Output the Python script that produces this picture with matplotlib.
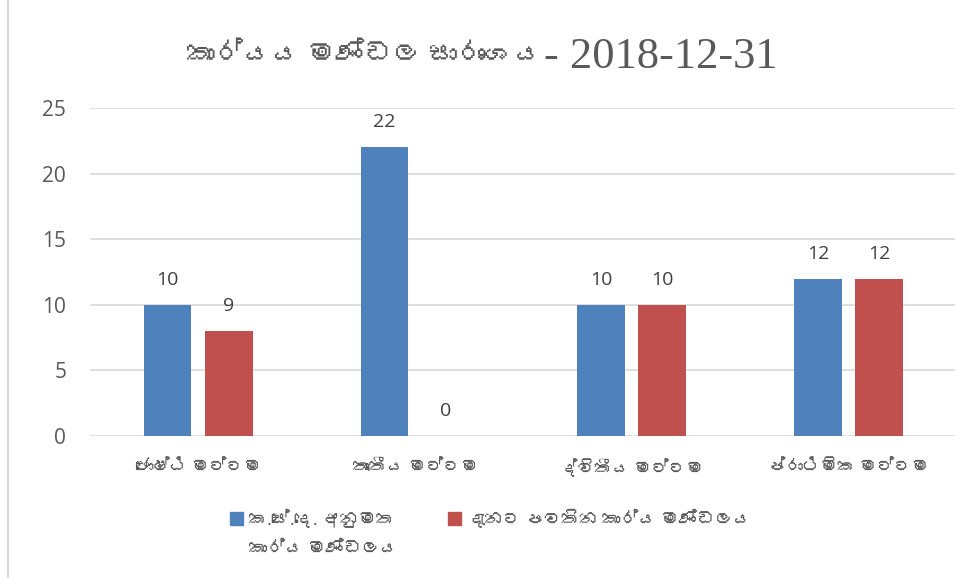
"""Sinhala working-committee summary bar chart (2018-12-31)."""

import matplotlib

matplotlib.use("Agg")
import matplotlib.pyplot as plt
import numpy as np
from matplotlib import font_manager
from matplotlib.ft2font import FT2Font
from matplotlib.lines import Line2D
from matplotlib.patches import Rectangle

categories = ["ජොෂ්ඨ මට්ටම", "තෘතීය මට්ටම", "ද්විතීය මට්ටම", "ප්රාථමික මට්ටම"]
approved = [10, 22, 10, 12]
current = [8, 0, 10, 12]
approved_labels = ["10", "22", "10", "12"]
current_labels = ["9", "0", "10", "12"]
series_names = ["ක.සේ.දෙ. අනුමත\nකාර්ය මණ්ඩලය", "දැනට පවතින කාර්ය මණ්ඩලය"]
title_sinhala = "කාර්යය මණ්ඩල සාරාංශය"
title_date = "- 2018-12-31"
yticks = [0, 5, 10, 15, 20, 25]


def find_sinhala_font():
    for fe in font_manager.fontManager.ttflist:
        try:
            cmap = FT2Font(fe.fname).get_charmap()
        except Exception:
            continue
        if 0x0D9A in cmap and 0x0DCA in cmap:
            return fe.name
    return None


sin = find_sinhala_font()
sans = ["Open Sans"] + ([sin] if sin else []) + ["DejaVu Sans"]
serif = ["Liberation Serif"] + ([sin] if sin else []) + ["DejaVu Sans"]
plt.rcParams["font.family"] = sans

W, H = 955, 578
grey = "#595959"
fig = plt.figure(figsize=(W / 100, H / 100), dpi=100)
ax = fig.add_axes([0.094, 0.2457, 0.908, 0.5674])

x = np.arange(len(categories))
w = 0.22
off = 0.141
b1 = ax.bar(x - off, approved, w, color="#4F81BD", zorder=3)
b2 = ax.bar(x + off, current, w, color="#C0504D", zorder=3)

for bars, labs in ((b1, approved_labels), (b2, current_labels)):
    for rect, lab in zip(bars, labs):
        ax.annotate(lab, (rect.get_x() + rect.get_width() / 2, rect.get_height()),
                    xytext=(0, 18), textcoords="offset points", ha="center",
                    va="center", fontsize=14, color="#404040")

ax.set_xlim(-0.5, len(categories) - 0.5)
ax.set_ylim(0, 25)
ax.set_yticks(yticks)
ax.set_xticks(x)
ax.set_xticklabels(categories, fontsize=12.5, color=grey)
ax.tick_params(axis="y", labelsize=15, colors=grey, length=0, pad=17)
ax.tick_params(axis="x", length=0, pad=17)
ax.yaxis.grid(True, color="#D9D9D9", lw=1.2, zorder=0)
for s in ax.spines.values():
    s.set_visible(False)

# title: Sinhala part and date part sized separately
fig.text(0.568, 0.902, title_sinhala, ha="right", va="center", fontsize=20.5,
         color=grey, family=serif)
fig.text(0.570, 0.902, title_date, ha="left", va="center", fontsize=32,
         color=grey, family=serif)

# legend drawn by hand so the swatch sits on the first text line
legend_pos = [(230, 249), (448, 467)]
for bars, name, (sx, tx) in zip((b1, b2), series_names, legend_pos):
    fig.add_artist(Rectangle((sx / W, 1 - 525 / H), 13 / W, 13 / H,
                             transform=fig.transFigure,
                             color=bars.patches[0].get_facecolor()))
    fig.text(tx / W, 1 - 510 / H, name, ha="left", va="top", fontsize=13,
             color=grey, linespacing=1.75)

fig.add_artist(Line2D([8 / W, 8 / W], [0, 1], color="#D9D9D9", lw=1.5))

fig.savefig("out.png", dpi=100)
